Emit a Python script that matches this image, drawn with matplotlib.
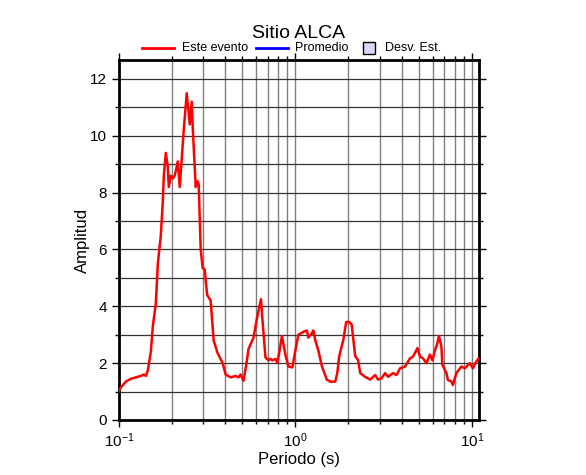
import numpy as np
import matplotlib
matplotlib.use('Agg')
import matplotlib.pyplot as plt
from matplotlib.lines import Line2D
from matplotlib.patches import Rectangle
from matplotlib.ticker import LogLocator, MultipleLocator

plt.rcParams['font.family'] = ['Liberation Sans', 'DejaVu Sans']

# Espectro del evento
periodo = [0.100, 0.1026, 0.1095, 0.1169, 0.1248, 0.1331, 0.1384, 0.1421, 0.1458, 0.1516,
           0.1556, 0.1618, 0.1661, 0.1727, 0.1773, 0.1796, 0.1843, 0.1892, 0.1917, 0.1967,
           0.2019, 0.2072, 0.2154, 0.2211, 0.2329, 0.2422, 0.2519, 0.2585, 0.2619, 0.2723,
           0.2795, 0.2831, 0.2906, 0.2982, 0.3061, 0.3162, 0.3310, 0.3441, 0.3626, 0.3870,
           0.4024, 0.4296, 0.4581, 0.4764, 0.4889, 0.5084, 0.5285, 0.5425, 0.5791, 0.6022,
           0.6180, 0.6384, 0.6510, 0.6768, 0.7037, 0.7222, 0.7412, 0.7709, 0.7912, 0.8389,
           0.8779, 0.9130, 0.9617, 1.0, 1.0397, 1.1097, 1.1614, 1.1842, 1.2394, 1.2639,
           1.2972, 1.3489, 1.4118, 1.5066, 1.5768, 1.6827, 1.7271, 1.7727, 1.8671, 1.9414,
           2.0189, 2.0855, 2.1827, 2.2699, 2.3298, 2.4865, 2.6532, 2.8314, 2.9440, 3.0814,
           3.2252, 3.3535, 3.5788, 3.7448, 3.9190, 4.1822, 4.4631, 4.6416, 4.9215, 5.0837,
           5.2859, 5.5341, 5.7914, 5.9827, 6.1802, 6.3431, 6.5103, 6.7251, 6.8129, 7.1767,
           7.3187, 7.6608, 7.8121, 8.0168, 8.1748, 8.7248, 9.1302, 9.7432, 10.13, 10.60,
           10.95]
amplitud = [1.02, 1.15, 1.35, 1.45, 1.5, 1.55, 1.6, 1.55, 1.75, 2.4,
            3.3, 4.1, 5.5, 6.5, 7.7, 8.6, 9.4, 8.9, 8.2, 8.6,
            8.5, 8.6, 9.1, 8.2, 10.2, 11.5, 10.4, 11.2, 10.3, 8.2,
            8.4, 8.3, 6.0, 5.35, 5.3, 4.4, 4.2, 2.8, 2.35, 2.0,
            1.6, 1.5, 1.55, 1.5, 1.6, 1.38, 2.0, 2.5, 2.9, 3.5,
            3.85, 4.25, 3.5, 2.2, 2.1, 2.15, 2.1, 2.15, 2.0, 2.95,
            2.3, 1.88, 1.85, 2.45, 3.0, 3.1, 3.15, 2.9, 3.05, 3.15,
            2.8, 2.45, 1.9, 1.42, 1.35, 1.35, 1.65, 2.25, 2.8, 3.45,
            3.45, 3.35, 2.25, 2.1, 1.65, 1.52, 1.42, 1.58, 1.42, 1.47,
            1.65, 1.52, 1.65, 1.58, 1.82, 1.88, 2.17, 2.23, 2.53, 2.23,
            2.17, 2.0, 2.3, 2.1, 2.46, 2.64, 2.96, 2.58, 1.94, 1.65,
            1.41, 1.35, 1.23, 1.47, 1.65, 1.88, 1.82, 2.0, 1.82, 2.05,
            2.17]

W, H = 586, 475
fig = plt.figure(figsize=(W / 100, H / 100), dpi=100)
ax = fig.add_axes([0.203, 0.1158, 0.614, 0.758])

ax.plot(periodo, amplitud, color='red', lw=1.8, zorder=3)

ax.set_xscale('log')
ax.set_xlim(0.1, 10.95)
ax.set_ylim(0, 12.67)

ax.xaxis.set_major_locator(LogLocator(base=10))
ax.xaxis.set_minor_locator(LogLocator(base=10, subs=np.arange(2, 10)))
ax.yaxis.set_major_locator(MultipleLocator(2))
ax.yaxis.set_minor_locator(MultipleLocator(1))

ax.grid(True, which='both', axis='x', color='#808080', lw=1.0)
ax.grid(True, which='both', axis='y', color='#333333', lw=0.9)

ax.tick_params(which='both', direction='out', top=True, right=True, labelsize=11, width=1)
ax.tick_params(which='major', length=5)
ax.tick_params(which='minor', length=3)
for s in ax.spines.values():
    s.set_linewidth(2)

ax.set_xlabel('Periodo (s)', fontsize=12, labelpad=1)
ax.set_ylabel('Amplitud', fontsize=12, labelpad=0)
fig.text(0.51, 0.93, 'Sitio ALCA', ha='center', va='center', fontsize=14)

# leyenda arriba del marco (coordenadas en pixeles de la figura)
ly = 1 - 48 / H
fig.add_artist(Line2D([142 / W, 174 / W], [ly, ly], color='red', lw=2))
fig.text(182 / W, ly, 'Este evento', fontsize=9, va='center')
fig.add_artist(Line2D([256 / W, 288 / W], [ly, ly], color='blue', lw=2))
fig.text(295 / W, ly, 'Promedio', fontsize=9, va='center')
fig.add_artist(Rectangle((363 / W, 1 - 54 / H), 12 / W, 12 / H, facecolor='#d8d8f8',
                         edgecolor='black', lw=1, transform=fig.transFigure))
fig.text(385 / W, ly, 'Desv. Est.', fontsize=9, va='center')

fig.savefig('out.png', dpi=100)
